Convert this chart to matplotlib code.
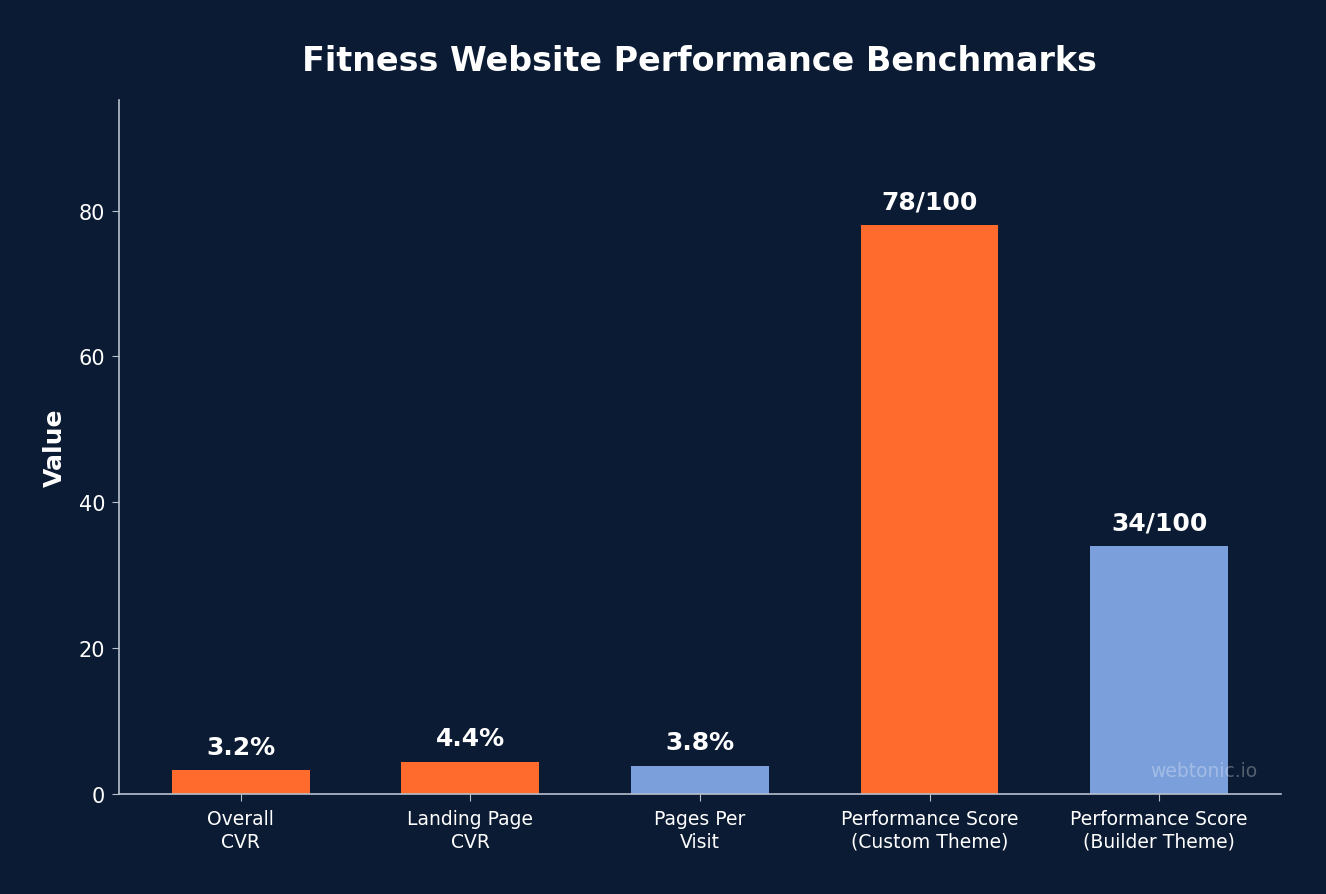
import matplotlib
matplotlib.use("Agg")
import matplotlib.pyplot as plt

categories = ["Overall\nCVR", "Landing Page\nCVR", "Pages Per\nVisit",
              "Performance Score\n(Custom Theme)", "Performance Score\n(Builder Theme)"]
values = [3.2, 4.4, 3.8, 78, 34]
labels = ["3.2%", "4.4%", "3.8%", "78/100", "34/100"]
colors = ["#FF6B2C", "#FF6B2C", "#7A9FDB", "#FF6B2C", "#7A9FDB"]

bg = "#0B1B33"
spine = "#B8C0CC"

fig, ax = plt.subplots(figsize=(13.26, 8.95), dpi=100)
fig.patch.set_facecolor(bg)
ax.set_facecolor(bg)
fig.subplots_adjust(left=0.0897, right=0.966, top=0.887, bottom=0.112)

x = range(len(categories))
bars = ax.bar(x, values, width=0.6, color=colors)
for b, lab in zip(bars, labels):
    ax.text(b.get_x() + b.get_width() / 2, b.get_height() + 1.6, lab,
            ha="center", va="bottom", color="white", fontsize=18, fontweight="bold")

ax.set_ylim(0, max(values) * 1.22)
ax.set_xticks(list(x))
ax.set_xticklabels(categories, fontsize=13.5, color="white", linespacing=1.25)
ax.tick_params(axis="x", pad=6)
ax.tick_params(axis="y", labelsize=15, colors="white", pad=5)
ax.tick_params(axis="both", color=spine, length=5)
ax.set_ylabel("Value", color="white", fontsize=18, fontweight="bold", labelpad=8)
ax.set_title("Fitness Website Performance Benchmarks", color="white",
             fontsize=24, fontweight="bold", pad=22)

for s in ["top", "right"]:
    ax.spines[s].set_visible(False)
for s in ["left", "bottom"]:
    ax.spines[s].set_color(spine)
    ax.spines[s].set_linewidth(1.2)

ax.text(0.98, 0.02, "webtonic.io", transform=ax.transAxes, ha="right", va="bottom",
        color="white", alpha=0.3, fontsize=13.5)

fig.savefig("out.png", dpi=100, facecolor=bg)
